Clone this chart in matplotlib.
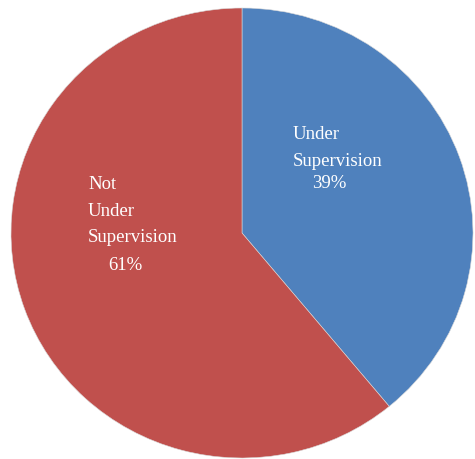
import matplotlib
matplotlib.use("Agg")
import matplotlib.pyplot as plt

# supervision split
categories = ["Under\nSupervision", "Not\nUnder\nSupervision"]
shares = [39, 61]
colors = ["#4F81BD", "#C0504D"]

W, H = 475, 459
fig = plt.figure(figsize=(W / 100, H / 100), dpi=100)
# pie spans x 11..473 px, y 8..458 px (slightly squashed vertically)
ax = fig.add_axes([11 / W, 1 / H, 462 / W, 450 / H])

ax.pie(shares, colors=colors, startangle=90, counterclock=False,
       wedgeprops=dict(edgecolor="#d9d9d9", linewidth=0.4))
ax.set_aspect("auto")
ax.set_xlim(-1, 1)
ax.set_ylim(-1, 1)
ax.axis("off")

font = dict(family=["Liberation Serif", "DejaVu Serif"], size=13.5, color="white")


def px(x, y):
    return x / W, 1 - y / H


# name lines, then the percentage indented below
label_pos = [(293, 139), (88, 189)]
pct_pos = [(312, 188), (108, 270)]
for name, val, (lx, ly), (qx, qy) in zip(categories, shares, label_pos, pct_pos):
    for i, line in enumerate(name.split("\n")):
        fig.text(*px(lx, ly + i * 26.5), line, ha="left", va="baseline", **font)
    fig.text(*px(qx, qy), f"{val}%", ha="left", va="baseline", **font)

fig.savefig("out.png", dpi=100, facecolor="white")
